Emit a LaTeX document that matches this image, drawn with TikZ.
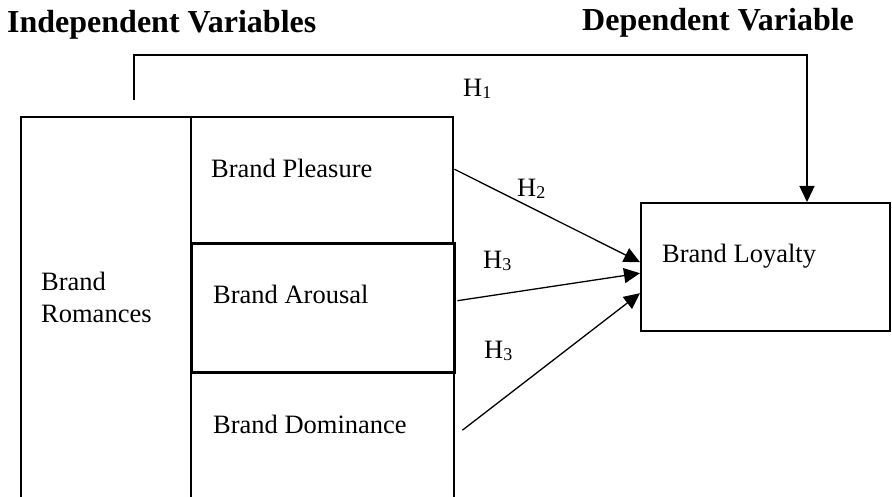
\documentclass[tikz,border=0pt]{standalone}
\usepackage{fontspec}
\setmainfont{Liberation Serif}
\usetikzlibrary{arrows.meta}
\newcommand{\hypo}[1]{H\raisebox{-2pt}{\fontsize{18}{18}\selectfont #1}}

\begin{document}
\begin{tikzpicture}
  [x=1pt,y=-1pt,
   box/.style={draw,line width=2.4pt,anchor=north west,inner sep=0pt},
   txt/.style={inner sep=0pt,font=\fontsize{26.5}{32}\selectfont},
   head/.style={anchor=base west,inner sep=0pt,font=\fontsize{32}{38}\selectfont\bfseries},
   link/.style={line width=1.3pt,-{Triangle[length=16pt,width=15pt]}}]
    \useasboundingbox (0,0) rectangle (892,497);
    \clip (0,0) rectangle (892,497);

    \node (romance)   [box,minimum width=170pt,minimum height=404pt] at (20,116)  {};
    \node (pleasure)  [box,minimum width=262pt,minimum height=126pt] at (190,116) {};
    \node (dominance) [box,minimum width=263pt,minimum height=150pt] at (190,371) {};
    \node (arousal)   [box,line width=3.4pt,minimum width=263pt,minimum height=129pt] at (190,242) {};
    \node (loyalty)   [box,minimum width=249pt,minimum height=128pt] at (640,202) {};

    \node (romtxt) [txt,anchor=west,align=left] at (41,297) {Brand\\Romances};
    \node (plstxt) [txt,anchor=base west] at (211,178) {Brand Pleasure};
    \node (arotxt) [txt,anchor=base west] at (213,303) {Brand Arousal};
    \node (domtxt) [txt,anchor=base west] at (213,433) {Brand Dominance};
    \node (loytxt) [txt,anchor=base west] at (662,263) {Brand Loyalty};

    \node (indep) [head] at (7,33)   {Independent Variables};
    \node (dep)   [head] at (582,31) {Dependent Variable};

    % hypotheses
    \coordinate (h1start) at (134,100);
    \coordinate (h1top)   at (807,55);
    \draw[link] (h1start) |- (h1top) -- (h1top |- loyalty.north);

    \foreach \from/\c/\a/\b in {pleasure/0/11/5,arousal/1/7.5/-6,dominance/7/17/-26}
      \draw[link] ([xshift=\c pt,yshift=\a pt]\from.east) -- ([yshift=\b pt]loyalty.west);

    \node (h1)  [txt,anchor=base west] at (463,97)  {\hypo{1}};
    \node (h2)  [txt,anchor=base west] at (517,197) {\hypo{2}};
    \node (h3a) [txt,anchor=base west] at (483,269) {\hypo{3}};
    \node (h3b) [txt,anchor=base west] at (484,358) {\hypo{3}};
\end{tikzpicture}
\end{document}
